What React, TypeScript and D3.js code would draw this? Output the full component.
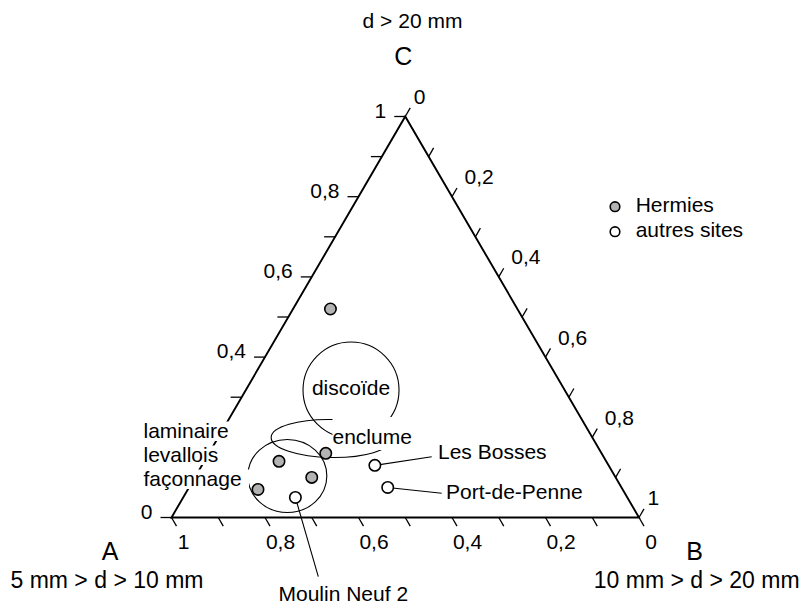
import React from "react";
import * as d3 from "d3";

// ---- data (ternary coordinates: A, B, C fractions) ----
const hermiesA = [0.40, 0.59, 0.70, 0.65, 0.78];
const hermiesB = [0.08, 0.25, 0.16, 0.25, 0.15];
const hermiesC = [0.52, 0.16, 0.14, 0.10, 0.07];

const otherNames = ["Moulin Neuf 2", "Les Bosses", "Port-de-Penne"];
const otherA = [0.71, 0.50, 0.50];
const otherB = [0.24, 0.37, 0.425];
const otherC = [0.05, 0.13, 0.075];

const minorTicks = [0, 0.1, 0.2, 0.3, 0.4, 0.5, 0.6, 0.7, 0.8, 0.9, 1];
const labelTicksA = [0, 0.2, 0.4, 0.6, 0.8, 1];
const labelTicksB = [0, 0.2, 0.4, 0.6, 0.8, 1];
// the 0,2 label of the C axis is hidden behind the "laminaire" note in the original
const labelTicksC = [0, 0.4, 0.6, 0.8, 1];

const groupNames = ["discoïde", "enclume", "laminaire levallois façonnage"];
const groupB = [0.225, 0.243, 0.196];
const groupC = [0.318, 0.197, 0.1035];

const legendNames = ["Hermies", "autres sites"];

const FONT = "'Liberation Sans', Arial, Helvetica, sans-serif";
const GREY = "#b3b3b3";

const fmt = (v: number) =>
  v === 0 || v === 1 ? String(v) : v.toFixed(1).replace(".", ",");

export default function App() {
  const x = d3.scaleLinear().domain([0, 1]).range([171.5, 639]);
  const y = d3.scaleLinear().domain([0, 1]).range([517.5, 116.5]);
  const pt = (b: number, c: number): [number, number] => [x(b + c / 2), y(c)];

  const A = pt(0, 0);
  const B = pt(1, 0);
  const C = pt(0, 1);
  const tri = `M${A[0]},${A[1]}L${B[0]},${B[1]}L${C[0]},${C[1]}Z`;

  const tl = 10;
  const ux = 0.5 * tl;
  const uy = 0.866 * tl;

  const hermies = hermiesB.map((b, i) => pt(b, hermiesC[i]));
  const others = otherB.map((b, i) => pt(b, otherC[i]));

  const disco = pt(groupB[0], groupC[0]);
  const encl = pt(groupB[1], groupC[1]);
  const clus = pt(groupB[2], groupC[2]);

  const leaderEnds: [number, number][] = [
    [318.3, 576.7],
    [431.7, 456.7],
    [441.7, 493.3],
  ];

  const lamLines = groupNames[2].split(" ");
  const lamBase = [438, 462, 486];
  const lamRight = [236, 225, 249];

  return (
    <svg
      width={804}
      height={608}
      style={{ position: "absolute", left: 0, top: 0, background: "#fff" }}
      fontFamily={FONT}
    >
      <rect x={0} y={0} width={804} height={608} fill="#fff" />

      {/* triangle */}
      <path d={tri} fill="none" stroke="#000" strokeWidth={1.9} strokeLinejoin="miter" />

      {/* bottom axis: A */}
      {minorTicks.map((v) => {
        const [px, py] = pt(1 - v, 0);
        return <line key={"ta" + v} x1={px} y1={py} x2={px + ux} y2={py + uy} stroke="#000" strokeWidth={1.3} />;
      })}
      {labelTicksA.map((v) => {
        const [px, py] = pt(1 - v, 0);
        const s = fmt(v);
        return (
          <text key={"la" + v} x={px + (s.length > 1 ? 15.5 : 12)} y={py + 31.5} fontSize={21} textAnchor="middle">
            {s}
          </text>
        );
      })}

      {/* left axis: C */}
      {minorTicks.map((v) => {
        const [px, py] = pt(0, v);
        return <line key={"tc" + v} x1={px} y1={py} x2={px - 11} y2={py} stroke="#000" strokeWidth={1.3} />;
      })}
      {labelTicksC.map((v) => {
        const [px, py] = pt(0, v);
        return (
          <text key={"lc" + v} x={px - 19} y={py + 1} fontSize={21} textAnchor="end">
            {fmt(v)}
          </text>
        );
      })}

      {/* right axis: B */}
      {minorTicks.map((v) => {
        const [px, py] = pt(v, 1 - v);
        return <line key={"tb" + v} x1={px} y1={py} x2={px + ux} y2={py - uy} stroke="#000" strokeWidth={1.3} />;
      })}
      {labelTicksB.map((v) => {
        const [px, py] = pt(v, 1 - v);
        const s = fmt(v);
        return (
          <text key={"lb" + v} x={px + (s.length > 1 ? 12.5 : 8.5)} y={py - 12.5} fontSize={21} textAnchor="start">
            {s}
          </text>
        );
      })}

      {/* vertex titles */}
      <text x={412.5} y={28} fontSize={21} textAnchor="middle">d &gt; 20 mm</text>
      <text x={403.3} y={65} fontSize={25} textAnchor="middle">C</text>
      <text x={110} y={560} fontSize={25} textAnchor="middle">A</text>
      <text x={107} y={588} fontSize={23} textAnchor="middle">5 mm &gt; d &gt; 10 mm</text>
      <text x={694.5} y={559.5} fontSize={25} textAnchor="middle">B</text>
      <text x={696.7} y={588} fontSize={23} textAnchor="middle">10 mm &gt; d &gt; 20 mm</text>

      {/* group shapes */}
      <circle cx={disco[0]} cy={disco[1]} r={48} fill="none" stroke="#000" strokeWidth={1.1} />
      <ellipse
        cx={encl[0]}
        cy={encl[1]}
        rx={60}
        ry={19}
        transform={`rotate(1 ${encl[0]} ${encl[1]})`}
        fill="none"
        stroke="#000"
        strokeWidth={1.1}
      />
      <ellipse cx={clus[0]} cy={clus[1]} rx={39.5} ry={36.5} fill="none" stroke="#000" strokeWidth={1.1} />

      {/* leader lines */}
      {others.map((p, i) => (
        <line key={"ld" + i} x1={p[0]} y1={p[1]} x2={leaderEnds[i][0]} y2={leaderEnds[i][1]} stroke="#000" strokeWidth={1.1} />
      ))}

      {/* white label boxes */}
      {lamLines.map((s, i) => (
        <rect key={"lr" + i} x={138} y={lamBase[i] - 16.5} width={lamRight[i] - 138} height={19.5} fill="#fff" />
      ))}
      <rect x={332.5} y={417} width={84} height={33} fill="#fff" />

      {/* labels */}
      {lamLines.map((s, i) => (
        <text key={"lt" + i} x={143.5} y={lamBase[i]} fontSize={21}>
          {s}
        </text>
      ))}
      <text x={351} y={395} fontSize={21} textAnchor="middle">{groupNames[0]}</text>
      <text x={332.5} y={444} fontSize={21}>{groupNames[1]}</text>
      <text x={278.5} y={601} fontSize={21}>{otherNames[0]}</text>
      <text x={438} y={459} fontSize={21}>{otherNames[1]}</text>
      <text x={446} y={499} fontSize={21}>{otherNames[2]}</text>

      {/* markers */}
      {hermies.map((p, i) => (
        <circle key={"h" + i} cx={p[0]} cy={p[1]} r={5.7} fill={GREY} stroke="#000" strokeWidth={1.6} />
      ))}
      {others.map((p, i) => (
        <circle key={"o" + i} cx={p[0]} cy={p[1]} r={5.7} fill="#fff" stroke="#000" strokeWidth={1.6} />
      ))}

      {/* legend */}
      <circle cx={615} cy={206.7} r={4.8} fill={GREY} stroke="#000" strokeWidth={1.6} />
      <text x={635.7} y={211.7} fontSize={21}>{legendNames[0]}</text>
      <circle cx={615} cy={231.7} r={4.8} fill="#fff" stroke="#000" strokeWidth={1.6} />
      <text x={635.7} y={236.7} fontSize={21}>{legendNames[1]}</text>
    </svg>
  );
}
